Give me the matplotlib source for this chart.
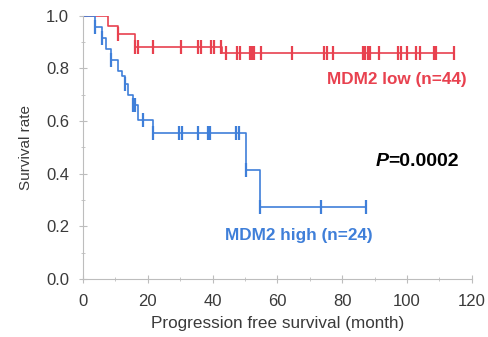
import numpy as np
import matplotlib
matplotlib.use("Agg")
import matplotlib.pyplot as plt
from matplotlib.ticker import MultipleLocator, FormatStrFormatter
from matplotlib.transforms import offset_copy

plt.rcParams['font.family'] = ['Liberation Sans', 'DejaVu Sans']

# MDM2 low (n=44): step times and survival after each step
low_times = [0, 7.7, 10.8, 16.0, 43.0]
low_surv = [1.0, 0.963, 0.932, 0.883, 0.857]
low_end = 114.5
low_censor = [10.8, 16.0, 17.0, 21.5, 30.4, 35.5, 36.3, 39.6, 40.4, 42.7,
              44.2, 47.6, 48.3, 51.4, 52.2, 52.9, 55.0, 64.5, 74.5, 75.3,
              77.0, 86.3, 87.0, 87.8, 88.5, 91.4, 97.3, 98.2, 100.0, 102.6,
              104.0, 108.3, 109.0, 114.5]

# MDM2 high (n=24)
high_times = [0, 3.7, 5.8, 7.0, 8.8, 10.8, 12.0, 12.9, 14.0, 15.4, 17.0, 21.7, 50.3, 54.5]
high_surv = [1.0, 0.958, 0.917, 0.875, 0.833, 0.79, 0.77, 0.74, 0.70, 0.66, 0.605, 0.556, 0.414, 0.275]
high_end = 87.3
high_censor = [3.7, 5.8, 8.8, 12.9, 15.4, 16.0, 18.5, 21.7, 29.6, 30.7, 35.5,
               38.6, 39.3, 47.3, 48.1, 50.3, 54.5, 73.4, 87.3]

red = '#e8414f'
blue = '#3f7fd9'
grey_text = '#3a3a3a'


def draw_km(ax, times, surv, end, censor, color):
    t = list(times) + [end]
    s = list(surv) + [surv[-1]]
    ax.step(t, s, where='post', color=color, lw=1.2)
    idx = np.searchsorted(times, censor, side='right') - 1
    cy = np.array(surv)[idx]
    ax.plot(censor, cy, linestyle='none', marker='|', color=color,
            markersize=10, markeredgewidth=1.6)


fig = plt.figure(figsize=(4.88, 3.37), dpi=100)
ax = fig.add_axes([0.170, 0.172, 0.797, 0.781])

draw_km(ax, low_times, low_surv, low_end, low_censor, red)
draw_km(ax, high_times, high_surv, high_end, high_censor, blue)

ax.set_xlim(0, 120)
ax.set_ylim(0, 1.0)
ax.xaxis.set_major_locator(MultipleLocator(20))
ax.xaxis.set_minor_locator(MultipleLocator(10))
ax.yaxis.set_major_locator(MultipleLocator(0.2))
ax.yaxis.set_minor_locator(MultipleLocator(0.1))
ax.yaxis.set_major_formatter(FormatStrFormatter('%.1f'))

for side in ['top', 'right']:
    ax.spines[side].set_visible(False)
for side in ['left', 'bottom']:
    ax.spines[side].set_color('#bdbdbd')
ax.tick_params(which='both', color='#bdbdbd', labelcolor=grey_text,
               labelsize=12, direction='inout')
ax.tick_params(which='major', length=6)
ax.tick_params(which='minor', length=3)
ax.tick_params(axis='x', pad=8)
ax.tick_params(axis='y', pad=7)

ax.set_xlabel('Progression free survival (month)', fontsize=12.3, color=grey_text, labelpad=5)
ax.set_ylabel('Survival rate', fontsize=11, color=grey_text, labelpad=9)

ax.text(75.4, 0.757, 'MDM2 low (n=44)', color=red, fontsize=12.3,
        fontweight='bold', va='center', ha='left')
ax.text(43.7, 0.167, 'MDM2 high (n=24)', color=blue, fontsize=12.3,
        fontweight='bold', va='center', ha='left')

# P value: italic bold P followed by the number
p_txt = ax.text(90.3, 0.446, 'P', color='black', fontsize=14,
                fontweight='bold', fontstyle='italic', va='center', ha='left')
fig.canvas.draw()
w = p_txt.get_window_extent().width * 72 / fig.dpi
ax.text(90.3, 0.446, '=0.0002', color='black', fontsize=14, fontweight='bold',
        va='center', ha='left',
        transform=offset_copy(ax.transData, fig=fig, x=w, y=0, units='points'))

fig.savefig('out.png', dpi=100)
